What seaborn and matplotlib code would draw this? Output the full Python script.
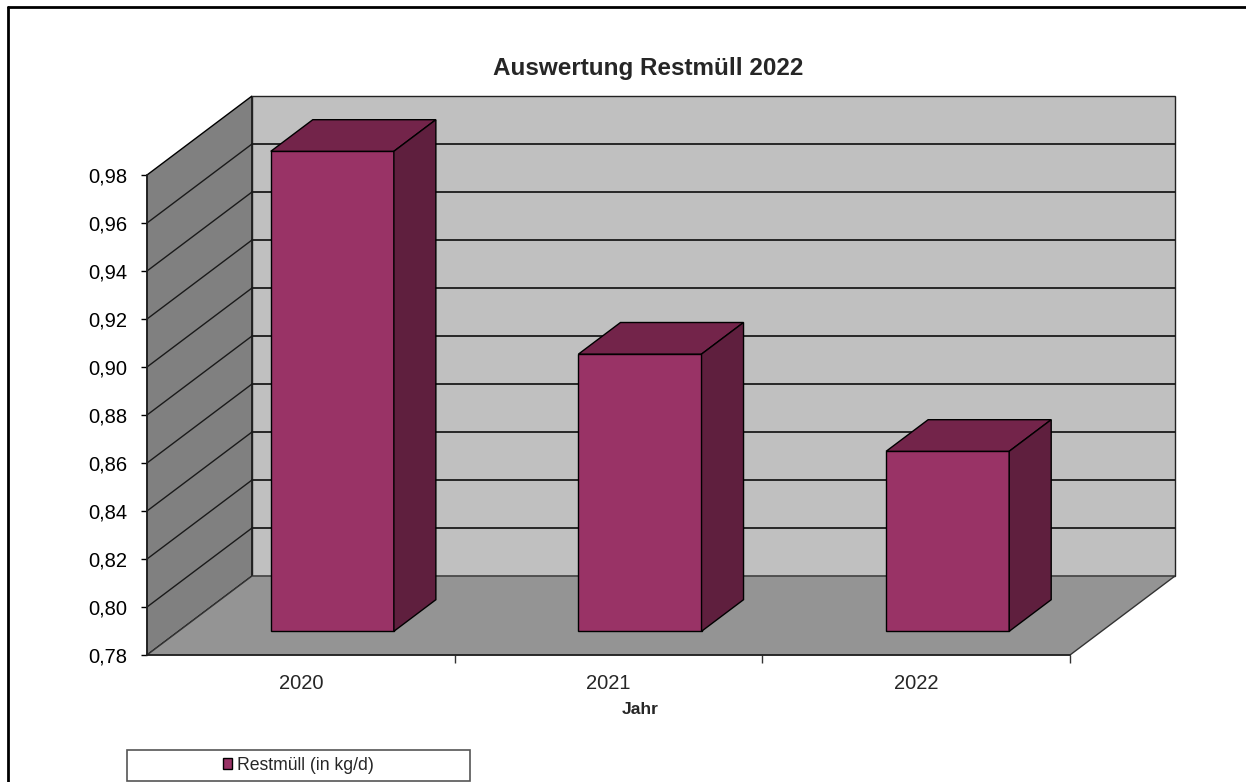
import numpy as np
import matplotlib
matplotlib.use('agg')
import matplotlib.pyplot as plt
import matplotlib.transforms as mtransforms
from matplotlib.patches import Polygon, Rectangle
from matplotlib.lines import Line2D
import seaborn as sns

# data
years = ["2020", "2021", "2022"]
restmuell = [0.980, 0.8955, 0.855]
y_ticks = [0.78, 0.80, 0.82, 0.84, 0.86, 0.88, 0.90, 0.92, 0.94, 0.96, 0.98]
series_label = "Restmüll (in kg/d)"
title = "Auswertung Restmüll 2022"
x_title = "Jahr"

BASE = y_ticks[0]
TOP = y_ticks[-1]

# excel-like colours
FRONT = "#993366"
ROOF = "#73244a"
SIDE = "#5f1f3e"
LEFT_WALL = "#808080"
BACK_WALL = "#c0c0c0"
FLOOR = "#949494"

# 3d depth offset of the chart box in pixels
DX, DY = 105, 79

sns.set_style("white")
plt.rcParams['font.family'] = ['Liberation Sans', 'DejaVu Sans']

W, H = 1246, 782
fig = plt.figure(figsize=(W / 100, H / 100), dpi=100)
ax = fig.add_axes([147 / W, (H - 655) / H, 923 / W, 480 / H])
ax.patch.set_visible(False)

heights = [v - BASE for v in restmuell]
sns.barplot(x=years, y=heights, bottom=BASE, width=0.4, color=FRONT,
            saturation=1, edgecolor="black", linewidth=1.0,
            label=series_label, ax=ax)
ax.set_xlim(-0.5, len(years) - 0.5)
ax.set_ylim(BASE, TOP)


def shift(x, y, d):
    # move a data point d (0..1) into the depth of the 3d box
    p = ax.transData.transform((x, y)) + d * np.array([DX, DY])
    return ax.transData.inverted().transform(p)


x0, x1 = -0.5, len(years) - 0.5

# walls and floor
walls = [
    ([(x0, BASE), (x0, TOP), shift(x0, TOP, 1), shift(x0, BASE, 1)], LEFT_WALL, "black"),
    ([shift(x0, BASE, 1), shift(x0, TOP, 1), shift(x1, TOP, 1), shift(x1, BASE, 1)], BACK_WALL, "#222222"),
    ([(x0, BASE), (x1, BASE), shift(x1, BASE, 1), shift(x0, BASE, 1)], FLOOR, "#333333"),
]
for pts, fc, ec in walls:
    ax.add_patch(Polygon(pts, closed=True, facecolor=fc, edgecolor=ec,
                         linewidth=1.0, clip_on=False, zorder=0.5))

# gridlines on back wall and left wall
for t in y_ticks[1:-1]:
    a = shift(x0, t, 1)
    b = shift(x1, t, 1)
    ax.plot([a[0], b[0]], [a[1], b[1]], color="#1a1a1a", lw=1.3,
            clip_on=False, zorder=1)
    ax.plot([x0, a[0]], [t, a[1]], color="#1a1a1a", lw=1.0,
            clip_on=False, zorder=1)

# bars: front face from seaborn, pushed into depth; roof and side added
front = mtransforms.offset_copy(ax.transData, fig=fig, x=0.3 * DX,
                                y=0.3 * DY, units='dots')
for bar in ax.containers[0]:
    bar.set_transform(front)
    bar.set_clip_on(False)
    bar.set_zorder(5)
    bx0 = bar.get_x()
    bx1 = bx0 + bar.get_width()
    top = bar.get_y() + bar.get_height()
    roof = [shift(bx0, top, 0.3), shift(bx1, top, 0.3),
            shift(bx1, top, 0.7), shift(bx0, top, 0.7)]
    side = [shift(bx1, BASE, 0.3), shift(bx1, top, 0.3),
            shift(bx1, top, 0.7), shift(bx1, BASE, 0.7)]
    ax.add_patch(Polygon(roof, closed=True, facecolor=ROOF, edgecolor="black",
                         linewidth=1.0, clip_on=False, zorder=5))
    ax.add_patch(Polygon(side, closed=True, facecolor=SIDE, edgecolor="black",
                         linewidth=1.0, clip_on=False, zorder=5))

# axes
for s in ["top", "right"]:
    ax.spines[s].set_visible(False)
for s in ["left", "bottom"]:
    ax.spines[s].set_color("#222222")
    ax.spines[s].set_linewidth(1.2)
    ax.spines[s].set_zorder(3)

ax.set_yticks(y_ticks)
ax.set_yticklabels([f"{t:.2f}".replace(".", ",") for t in y_ticks])
ax.tick_params(axis="y", direction="out", length=4, width=1, pad=10,
               labelsize=14.5, left=True, colors="black")
ax.set_xticks(range(len(years)))
ax.set_xticklabels(years)
ax.set_xticks([i + 0.5 for i in range(len(years))], minor=True)
ax.tick_params(axis="x", which="major", length=0, pad=14, labelsize=14.5)
ax.tick_params(axis="x", which="minor", direction="out", length=6, width=1,
               color="#333333", bottom=True)
ax.set_ylabel("")
ax.set_xlabel(x_title, fontsize=12.6, fontweight="bold")
ax.xaxis.set_label_coords((640 - 147) / 923, (655 - 702) / 480)

fig.text(648 / W, 1 - 68 / H, title, ha="center", va="center",
         fontsize=17.5, fontweight="bold")

# legend in its own box
ax.legend(loc="center", bbox_to_anchor=(298 / W, 1 - 765 / H),
          bbox_transform=fig.transFigure, frameon=False, fontsize=12.7,
          handlelength=0.55, handleheight=0.55, handletextpad=0.25,
          borderpad=0)
fig.add_artist(Rectangle((127 / W, 1 - 781 / H), 343 / W, 31 / H,
                         transform=fig.transFigure, fill=False,
                         edgecolor="#555555", linewidth=1.2))

# chart area border (only left and top visible in the crop)
fig.add_artist(Line2D([8 / W, 8 / W], [0, 1 - 7 / H], transform=fig.transFigure,
                      color="black", linewidth=2))
fig.add_artist(Line2D([8 / W, 1], [1 - 7 / H, 1 - 7 / H], transform=fig.transFigure,
                      color="black", linewidth=2))

fig.savefig("out.png", dpi=100)
plt.close()
